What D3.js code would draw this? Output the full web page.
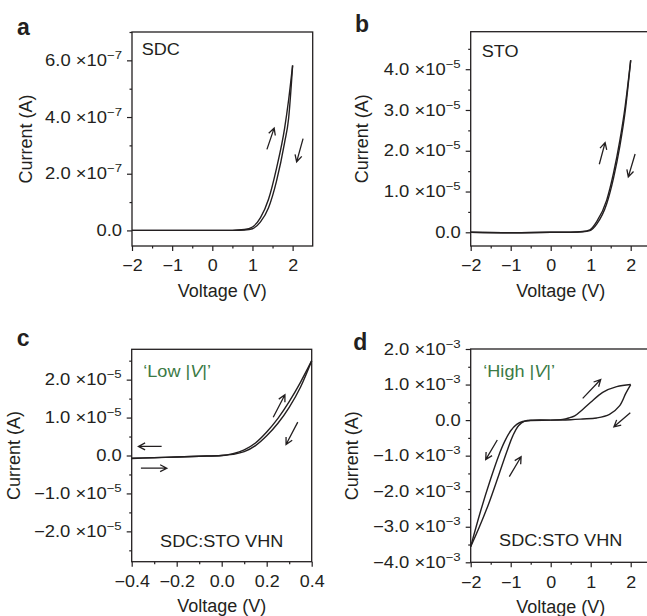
<!DOCTYPE html>
<html>
<head>
<meta charset="utf-8">
<script src="https://d3js.org/d3.v7.min.js"></script>
<style>
  body { margin: 0; background: #fff; }
  text { font-family: "Liberation Sans", Arial, sans-serif; fill: #231f20; }
</style>
</head>
<body>
<svg id="fig" width="647" height="616"></svg>
<script>
// ---- data (currents in units of the panel's 10^n A) ----

// a: SDC, current in 1e-7 A
const aVolt     = [-2, -1, 0, 0.5, 0.8, 1.0, 1.2, 1.4, 1.6, 1.8, 1.9, 2.0];
const aSweepUp  = [0, 0, 0, 0.002, 0.03, 0.12, 0.45, 1.1, 2.2, 3.6, 4.6, 5.82];
const aSweepDn  = [0, 0, 0, 0.001, 0.015, 0.06, 0.3, 0.8, 1.75, 3.1, 3.95, 5.82];

// b: STO, current in 1e-5 A
const bVolt     = [-2, -1, 0, 0.5, 0.8, 0.98, 1.15, 1.4, 1.57, 1.73, 1.86, 2.0];
const bSweepUp  = [0, -0.01, 0, 0.005, 0.02, 0.06, 0.26, 0.79, 1.45, 2.26, 3.08, 4.22];
const bSweepDn  = [0, -0.01, 0, 0.003, 0.012, 0.04, 0.2, 0.7, 1.33, 2.12, 2.95, 4.22];

// c: SDC:STO VHN low |V|, current in 1e-5 A
const cVolt     = [-0.4, -0.3, -0.2, -0.1, 0, 0.05, 0.1, 0.15, 0.2, 0.25, 0.3, 0.35, 0.4];
const cSweepUp  = [-0.07, -0.055, -0.04, -0.02, 0, 0.05, 0.15, 0.33, 0.62, 0.98, 1.42, 1.93, 2.5];
const cSweepDn  = [-0.08, -0.06, -0.04, -0.02, 0, 0.03, 0.1, 0.26, 0.52, 0.85, 1.27, 1.8, 2.5];

// d: SDC:STO VHN high |V|, current in 1e-3 A (loop split in branches)
const dUpperV = [0, 0.3, 0.45, 0.6, 0.8, 1.0, 1.3, 1.65, 2.0];
const dUpperI = [0, 0.02, 0.06, 0.12, 0.3, 0.5, 0.78, 0.94, 1.0];
const dLowerV = [2.0, 1.88, 1.72, 1.47, 1.15, 0.8, 0.5, 0, -0.5];
const dLowerI = [1.0, 0.76, 0.4, 0.16, 0.06, 0.03, 0.01, 0, -0.01];
const dOuterV = [-0.5, -0.7, -0.85, -1.0, -1.15, -1.3, -1.5, -1.75, -2.0];
const dOuterI = [-0.01, -0.04, -0.12, -0.3, -0.6, -1.0, -1.65, -2.55, -3.56];
const dInnerV = [-2.0, -1.8, -1.55, -1.3, -1.1, -0.95, -0.8, -0.65, -0.45, 0];
const dInnerI = [-3.56, -3.05, -2.35, -1.55, -0.9, -0.45, -0.15, -0.03, 0, 0];

// sweep-direction arrows: [v0, i0, v1, i1]
const aArrows = [[1.36, 2.86, 1.54, 3.61], [2.26, 3.24, 2.10, 2.42]];
const bArrows = [[1.215, 1.67, 1.36, 2.20], [2.11, 1.92, 1.94, 1.36]];
const cArrows = [[0.229, 1.01, 0.281, 1.60], [0.338, 0.88, 0.286, 0.29],
                 [-0.267, 0.24, -0.37, 0.24], [-0.359, -0.335, -0.244, -0.335]];
const dArrows = [[0.8, 0.61, 1.25, 1.14], [1.99, 0.21, 1.58, -0.19],
                 [-1.335, -0.56, -1.625, -1.11], [-1.035, -1.59, -0.74, -1.03]];

// ticks
const xTicksWide   = [-2, -1, 0, 1, 2];
const xMinorWide   = [-1.5, -0.5, 0.5, 1.5];
const xTicksNarrow = [-0.4, -0.2, 0, 0.2, 0.4];
const xMinorNarrow = [-0.3, -0.1, 0.1, 0.3];
const aYTicks = [0, 2, 4, 6], aYMinor = [1, 3, 5, 7];
const bYTicks = [0, 1, 2, 3, 4], bYMinor = [0.5, 1.5, 2.5, 3.5, 4.5];
const cYTicks = [-2, -1, 0, 1, 2], cYMinor = [-2.5, -1.5, -0.5, 0.5, 1.5, 2.5];
const dYTicks = [-4, -3, -2, -1, 0, 1, 2], dYMinor = [-3.5, -2.5, -1.5, -0.5, 0.5, 1.5];

const ink = "#231f20";
const green = "#3b7a45";
const svg = d3.select("#fig");

function zip(v, i) { return v.map((d, k) => [d, i[k]]); }
const minus = s => s.replace("-", "\u2212");

// the small labels in the figure are set a bit wider than Arial
function widen(sel, k = 1.15) {
  sel.each(function() {
    const ax = +(this.getAttribute("x") || 0);
    this.setAttribute("transform", `translate(${ax},0) scale(${k},1) translate(${-ax},0)`);
  });
}

function drawPanel(p) {
  const x = d3.scaleLinear().domain(p.xDomain).range([p.left, p.right]);
  const y = d3.scaleLinear().domain(p.yDomain).range([p.bottom, p.top]);
  const g = svg.append("g");

  // x axis
  const gx = g.append("g").attr("transform", `translate(0,${p.bottom})`)
    .call(d3.axisBottom(x).tickValues(p.xTicks).tickSize(5).tickSizeOuter(0).tickPadding(9)
      .tickFormat(d => minus(d3.format(p.xFmt)(d))));
  g.append("g").attr("transform", `translate(0,${p.bottom})`)
    .call(d3.axisBottom(x).tickValues(p.xMinor).tickSize(2.5).tickFormat(""));

  // y axis
  const gy = g.append("g").attr("transform", `translate(${p.left},0)`)
    .call(d3.axisLeft(y).tickValues(p.yTicks).tickSize(5).tickSizeOuter(0).tickPadding(5).tickFormat(""));
  g.append("g").attr("transform", `translate(${p.left},0)`)
    .call(d3.axisLeft(y).tickValues(p.yMinor).tickSize(2.5).tickFormat(""));

  g.selectAll(".domain").remove();
  g.selectAll(".tick line").attr("stroke", ink).attr("stroke-width", 1.2);
  gx.selectAll("text").attr("font-family", null).attr("font-size", 16).attr("fill", ink);
  widen(gx.selectAll(".tick text"), 1.12);

  // y tick labels with power of ten
  gy.selectAll(".tick text").each(function(d) {
    const t = d3.select(this).attr("font-family", null).attr("font-size", 16).attr("fill", ink);
    if (d === 0) { t.text("0.0"); return; }
    t.append("tspan").text(minus(d.toFixed(1)) + " \u00d710");
    t.append("tspan").attr("font-size", 11.5).attr("dy", -7).text("\u2212" + p.exp);
  });
  widen(gy.selectAll(".tick text"));

  // frame
  g.append("rect").attr("x", p.left).attr("y", p.top)
    .attr("width", p.right - p.left).attr("height", p.bottom - p.top)
    .attr("fill", "none").attr("stroke", ink).attr("stroke-width", 1.3);

  // curves
  const line = d3.line().x(d => x(d[0])).y(d => y(d[1])).curve(p.curve);
  p.series.forEach(s => {
    g.append("path").attr("d", line(s)).attr("fill", "none")
      .attr("stroke", ink).attr("stroke-width", 1.4).attr("stroke-linejoin", "round");
  });

  // arrows
  p.arrows.forEach(a => {
    const x0 = x(a[0]), y0 = y(a[1]), x1 = x(a[2]), y1 = y(a[3]);
    const ang = Math.atan2(y1 - y0, x1 - x0), L = 7.5, w = 0.48;
    const h = [ang + Math.PI - w, ang + Math.PI + w].map(t => [x1 + L * Math.cos(t), y1 + L * Math.sin(t)]);
    g.append("path")
      .attr("d", `M${x0},${y0}L${x1},${y1}M${h[0][0]},${h[0][1]}L${x1},${y1}L${h[1][0]},${h[1][1]}`)
      .attr("fill", "none").attr("stroke", ink).attr("stroke-width", 1.3).attr("stroke-linejoin", "miter");
  });

  // axis titles
  g.append("text").attr("x", (p.left + p.right) / 2).attr("y", p.bottom + 50.7)
    .attr("text-anchor", "middle").attr("font-size", 18).text("Voltage (V)");
  g.append("text")
    .attr("transform", `translate(${p.left - p.yTitleGap},${(p.top + p.bottom) / 2}) rotate(-90)`)
    .attr("text-anchor", "middle").attr("font-size", 18).text("Current (A)");

  // panel letter
  g.append("text").attr("x", p.letterPos[0]).attr("y", p.letterPos[1])
    .attr("font-size", 23).attr("font-weight", "bold").text(p.letter);

  // in-plot labels
  p.notes.forEach(n => {
    const t = g.append("text").attr("font-size", 16)
      .attr("x", n.anchor === "middle" ? (p.left + p.right) / 2 : p.left + n.dx)
      .attr("y", n.fromBottom ? p.bottom - n.dy : p.top + n.dy)
      .attr("text-anchor", n.anchor || "start");
    if (n.green) {
      t.style("fill", green);
      t.append("tspan").text(n.text[0]);
      t.append("tspan").attr("font-style", "italic").text("V");
      t.append("tspan").text(n.text[1]);
    } else t.text(n.text);
    widen(t, 1.13);
  });
}

drawPanel({
  letter: "a", letterPos: [17, 35],
  left: 132, right: 312.7, top: 32, bottom: 246,
  xDomain: [-2, 2.5], yDomain: [-0.55, 7], exp: 7,
  xTicks: xTicksWide, xMinor: xMinorWide, xFmt: "d",
  yTicks: aYTicks, yMinor: aYMinor, yTitleGap: 100,
  curve: d3.curveMonotoneX,
  series: [zip(aVolt, aSweepUp), zip(aVolt, aSweepDn)],
  arrows: aArrows,
  notes: [{ text: "SDC", dx: 9.7, dy: 23 }]
});

drawPanel({
  letter: "b", letterPos: [355, 31.7],
  left: 470.7, right: 650.7, top: 31.7, bottom: 246,
  xDomain: [-2, 2.5], yDomain: [-0.336, 4.92], exp: 5,
  xTicks: xTicksWide, xMinor: xMinorWide, xFmt: "d",
  yTicks: bYTicks, yMinor: bYMinor, yTitleGap: 102.7,
  curve: d3.curveMonotoneX,
  series: [zip(bVolt, bSweepUp), zip(bVolt, bSweepDn)],
  arrows: bArrows,
  notes: [{ text: "STO", dx: 11, dy: 25 }]
});

drawPanel({
  letter: "c", letterPos: [16.7, 346],
  left: 131.7, right: 311.7, top: 349.3, bottom: 561.7,
  xDomain: [-0.4, 0.4], yDomain: [-2.8, 2.8], exp: 5,
  xTicks: xTicksNarrow, xMinor: xMinorNarrow, xFmt: ".1f",
  yTicks: cYTicks, yMinor: cYMinor, yTitleGap: 112,
  curve: d3.curveMonotoneX,
  series: [zip(cVolt, cSweepUp), zip(cVolt, cSweepDn)],
  arrows: cArrows,
  notes: [{ text: ["\u2018Low |", "|\u2019"], green: true, dx: 11.6, dy: 27.4 },
          { text: "SDC:STO VHN", anchor: "middle", fromBottom: true, dy: 15 }]
});

drawPanel({
  letter: "d", letterPos: [353.3, 350],
  left: 470.7, right: 650.7, top: 349, bottom: 562.3,
  xDomain: [-2, 2.5], yDomain: [-4, 2], exp: 3,
  xTicks: xTicksWide, xMinor: xMinorWide, xFmt: "d",
  yTicks: dYTicks, yMinor: dYMinor, yTitleGap: 112.7,
  curve: d3.curveCatmullRom,
  series: [zip(dUpperV, dUpperI), zip(dLowerV, dLowerI), zip(dOuterV, dOuterI), zip(dInnerV, dInnerI)],
  arrows: dArrows,
  notes: [{ text: ["\u2018High |", "|\u2019"], green: true, dx: 12.6, dy: 27.7 },
          { text: "SDC:STO VHN", anchor: "middle", fromBottom: true, dy: 16.6 }]
});
</script>
</body>
</html>
